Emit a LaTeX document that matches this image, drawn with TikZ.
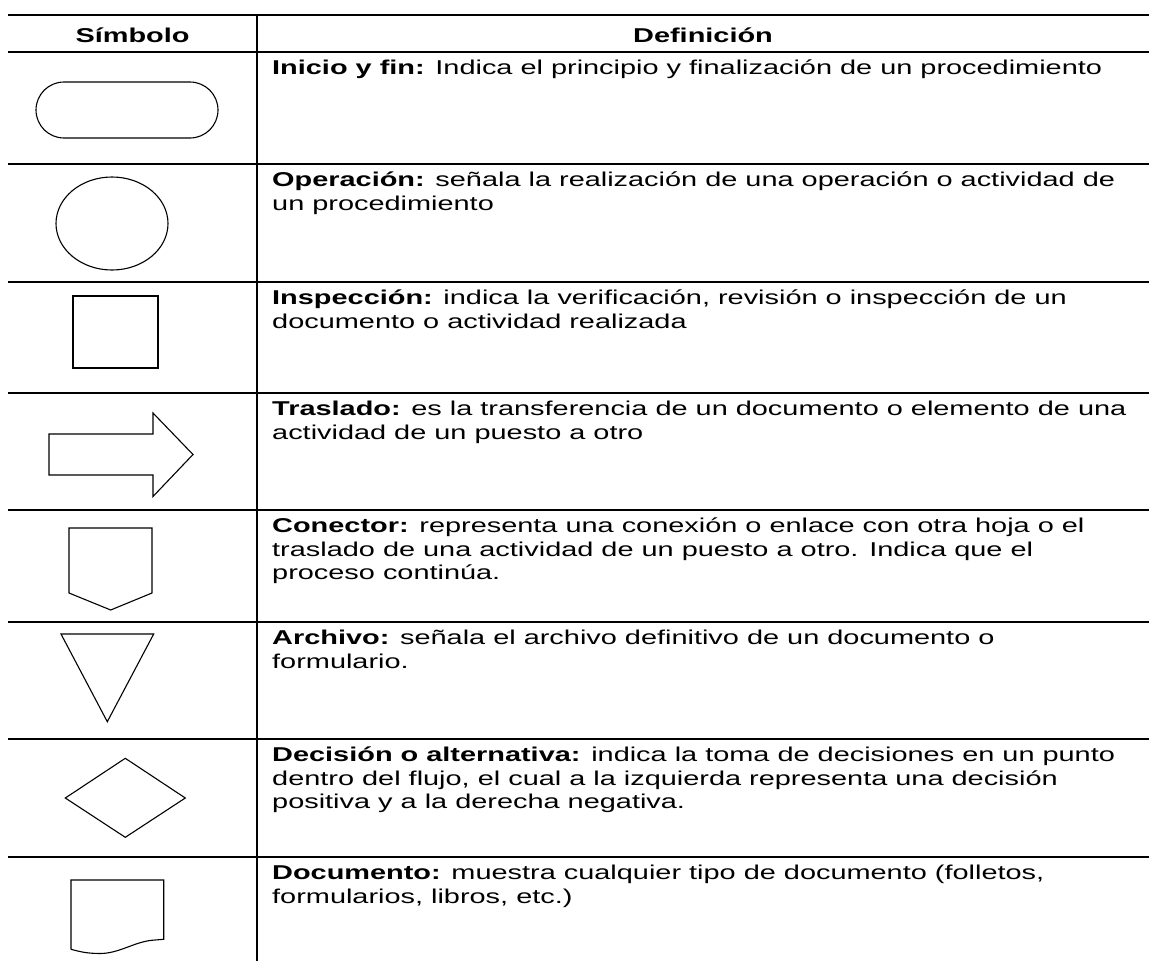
\documentclass[tikz,border=0pt]{standalone}
\usepackage{fontspec}
\setmainfont{Liberation Sans}[FakeStretch=1.445]
\usetikzlibrary{positioning}

\tikzset{
	rule/.style={line width=2pt},
	sym/.style={line width=1.1pt},
	txt/.style={anchor=base west, inner sep=0pt, font=\fontsize{20}{23.5}\selectfont},
	head/.style={anchor=base, inner sep=0pt, font=\fontsize{20}{23.5}\selectfont\bfseries},
}

\begin{document}
\begin{tikzpicture}[x=1pt,y=-1pt]
	\useasboundingbox (0,0) rectangle (1149,961);
	
	%table lines
	\draw [rule] (8,15)--(1149,15);		%top line
	\draw [rule] (8,52)--(1149,52);		%header line
	\draw [rule] (8,164)--(1149,164);
	\draw [rule] (8,282)--(1149,282);
	\draw [rule] (8,393)--(1149,393);
	\draw [rule] (8,510)--(1149,510);
	\draw [rule] (8,622)--(1149,622);
	\draw [rule] (8,739)--(1149,739);
	\draw [rule] (8,857)--(1149,857);
	\draw [rule] (257,15)--(257,961);	%column line
	
	%header
	\node[head] (simbolo) at (132.5,42) {Símbolo};
	\node[head] (definicion) at (703,42) {Definición};
	
	%symbols
	\draw [sym, rounded corners=28pt] (36,82) rectangle (218,138);		%inicio y fin
	\draw [sym] (112,223.5) ellipse [x radius=56pt, y radius=46.5pt];	%operacion
	\draw [sym] (73,296) rectangle (158,368);							%inspeccion
	\draw [sym] (49,434)--(153,434)--(153,413)--(193,454.5)--(153,496.5)--(153,475)--(49,475)--cycle;	%traslado
	\draw [sym] (69,528)--(152,528)--(152,593)--(110.7,610)--(69,593)--cycle;	%conector
	\draw [sym] (61,634)--(153.7,634)--(107.3,721.7)--cycle;			%archivo
	\draw [sym] (65.3,798)--(125.3,758.3)--(185.3,798)--(125.3,837.3)--cycle;	%decision
	\draw [sym] (71,949.3)--(71,880)--(163.7,880)--(163.7,939.3)--(155,940)
		.. controls (135,941) and (120,953.5) .. (100,953.5)
		.. controls (85,953.5) and (78,951) .. (71,949.3);				%documento
	
	%definitions
	\node[txt] (ini1) at (272,74.5) {\textbf{Inicio y fin:} Indica el principio y finalización de un procedimiento};
	%
	\node[txt] (ope1) at (272,186.5) {\textbf{Operación:} señala la realización de una operación o actividad de};
	\node[txt] (ope2) at (272,210) {un procedimiento};
	%
	\node[txt] (ins1) at (272,304.5) {\textbf{Inspección:} indica la verificación, revisión o inspección de un};
	\node[txt] (ins2) at (272,328) {documento o actividad realizada};
	%
	\node[txt] (tra1) at (272,415.5) {\textbf{Traslado:} es la transferencia de un documento o elemento de una};
	\node[txt] (tra2) at (272,439) {actividad de un puesto a otro};
	%
	\node[txt] (con1) at (272,532.5) {\textbf{Conector:} representa una conexión o enlace con otra hoja o el};
	\node[txt] (con2) at (272,556) {traslado de una actividad de un puesto a otro. Indica que el};
	\node[txt] (con3) at (272,579.5) {proceso continúa.};
	%
	\node[txt] (arc1) at (272,644.5) {\textbf{Archivo:} señala el archivo definitivo de un documento o};
	\node[txt] (arc2) at (272,668) {formulario.};
	%
	\node[txt] (dec1) at (272,761.5) {\textbf{Decisión o alternativa:} indica la toma de decisiones en un punto};
	\node[txt] (dec2) at (272,785) {dentro del flujo, el cual a la izquierda representa una decisión};
	\node[txt] (dec3) at (272,808.5) {positiva y a la derecha negativa.};
	%
	\node[txt] (doc1) at (272,879.5) {\textbf{Documento:} muestra cualquier tipo de documento (folletos,};
	\node[txt] (doc2) at (272,903) {formularios, libros, etc.)};
	
\end{tikzpicture}
\end{document}
